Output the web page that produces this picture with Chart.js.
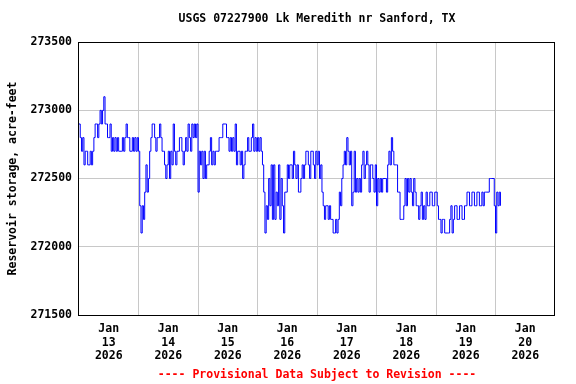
<!DOCTYPE html>
<html><head><meta charset="utf-8">
<script src="https://cdn.jsdelivr.net/npm/chart.js@4"></script>
<style>html,body{margin:0;padding:0;background:#fff}#wrap{width:576px;height:384px}</style>
</head><body><div id="wrap"><canvas id="c" width="576" height="384"></canvas></div>
<script>
// ---- data ----
const chartTitle = 'USGS 07227900 Lk Meredith nr Sanford, TX';
const yAxisTitle = 'Reservoir storage, acre-feet';
const footerText = '---- Provisional Data Subject to Revision ----';
const monthLabel = 'Jan';
const yearLabel = '2026';
const dayLabels = ['13', '14', '15', '16', '17', '18', '19', '20'];
const yTickValues = [271500, 272000, 272500, 273000, 273500];
// half-hourly reservoir storage (acre-feet), starting Jan 13 2026 00:00
const storage = [
  // Jan 13
  272900,272800, 272700,272800, 272600,272700, 272700,272600, 272600,272700, 272600,272700,
  272800,272900, 272900,272800, 272900,273000, 272900,273000, 273100,272900, 272900,272800,
  272800,272900, 272700,272800, 272700,272800, 272700,272800, 272700,272700, 272700,272800,
  272700,272800, 272900,272800, 272800,272700, 272700,272800, 272700,272800, 272700,272800,
  // Jan 14
  272700,272300, 272100,272300, 272200,272400, 272600,272400, 272500,272700, 272800,272900,
  272900,272800, 272700,272800, 272800,272900, 272800,272700, 272700,272600, 272500,272600,
  272700,272500, 272700,272600, 272900,272700, 272600,272700, 272700,272800, 272800,272700,
  272600,272700, 272800,272700, 272900,272800, 272700,272900, 272800,272900, 272800,272900,
  // Jan 15
  272400,272700, 272600,272700, 272500,272700, 272500,272600, 272600,272700, 272800,272600,
  272700,272600, 272700,272700, 272700,272800, 272800,272800, 272900,272900, 272900,272800,
  272800,272700, 272800,272700, 272800,272700, 272900,272600, 272700,272700, 272600,272700,
  272500,272600, 272700,272700, 272800,272700, 272700,272800, 272900,272700, 272800,272700,
  // Jan 16
  272800,272700, 272800,272700, 272600,272400, 272100,272300, 272200,272500, 272300,272600,
  272200,272600, 272200,272400, 272300,272600, 272200,272500, 272300,272100, 272400,272400,
  272600,272500, 272600,272600, 272500,272700, 272600,272500, 272600,272400, 272400,272500,
  272600,272500, 272600,272700, 272700,272600, 272500,272700, 272700,272600, 272500,272700,
  // Jan 17
  272600,272700, 272500,272600, 272400,272300, 272200,272300, 272300,272200, 272300,272200,
  272200,272100, 272100,272200, 272100,272200, 272400,272300, 272500,272600, 272700,272600,
  272800,272700, 272600,272700, 272300,272400, 272700,272400, 272500,272400, 272500,272400,
  272600,272700, 272500,272600, 272700,272600, 272400,272600, 272600,272500, 272400,272600,
  // Jan 18
  272300,272500, 272400,272500, 272400,272500, 272500,272500, 272400,272600, 272700,272600,
  272800,272700, 272600,272600, 272600,272400, 272400,272200, 272200,272200, 272300,272500,
  272300,272500, 272400,272500, 272400,272300, 272500,272400, 272300,272300, 272200,272300,
  272400,272200, 272300,272200, 272400,272300, 272300,272400, 272400,272300, 272300,272400,
  // Jan 19
  272400,272300, 272200,272200, 272100,272200, 272200,272100, 272100,272100, 272100,272200,
  272300,272100, 272200,272300, 272300,272200, 272200,272300, 272300,272200, 272200,272300,
  272300,272400, 272400,272300, 272300,272400, 272400,272300, 272300,272400, 272400,272300,
  272300,272400, 272300,272400, 272400,272400, 272400,272500, 272500,272500, 272500,272300,
  // Jan 20
  272100,272400, 272300,272400, 272300
];
const stepHours = 0.5;
const hoursPerDay = 24;
const numDays = 8;

// ---- chart ----
const FONT = {family: "'DejaVu Sans Mono', monospace", size: 11.5, weight: 'bold', lineHeight: 1.15};
const points = storage.map((v, i) => ({x: i * stepHours, y: v}));
const xTickVals = [];
for (let h = 0; h <= hoursPerDay * numDays; h += hoursPerDay / 2) xTickVals.push(h);

const framePlugin = {
  id: 'frame',
  afterDraw(chart) {
    const a = chart.chartArea, ctx = chart.ctx;
    ctx.save();
    ctx.strokeStyle = '#000';
    ctx.lineWidth = 1;
    ctx.strokeRect(Math.round(a.left) - 0.5, Math.round(a.top) + 0.5, Math.round(a.right - a.left), Math.round(a.bottom - a.top));
    ctx.restore();
  }
};

new Chart(document.getElementById('c'), {
  type: 'line',
  data: {
    datasets: [{
      data: points,
      borderColor: '#0000ff',
      borderWidth: 1,
      pointRadius: 0,
      stepped: true,
      fill: false
    }]
  },
  options: {
    responsive: false,
    animation: false,
    devicePixelRatio: 1,
    layout: {padding: {left: 0, right: 21, top: 0, bottom: 0}},
    plugins: {
      legend: {display: false},
      tooltip: {enabled: false},
      title: {display: true, fullSize: false, text: chartTitle, color: '#000', font: FONT, padding: {top: 12, bottom: 17}},
      subtitle: {display: true, fullSize: false, position: 'bottom', text: footerText, color: '#ff0000', font: FONT, padding: {top: 4, bottom: 2}}
    },
    scales: {
      x: {
        type: 'linear',
        min: 0,
        max: hoursPerDay * numDays,
        afterBuildTicks: s => { s.ticks = xTickVals.map(v => ({value: v})); },
        afterFit: s => { s.height = 50; },
        border: {display: false},
        grid: {
          drawTicks: false,
          color: ctx => (ctx.tick && ctx.tick.value % 24 === 0 && ctx.tick.value > 0 && ctx.tick.value < 192) ? '#c8c8c8' : 'rgba(0,0,0,0)',
          lineWidth: 1
        },
        ticks: {
          autoSkip: false, maxRotation: 0, minRotation: 0, padding: 8, color: '#000', font: FONT,
          callback: v => (v % 24 === 12) ? [monthLabel, dayLabels[(v - 12) / 24], yearLabel] : ''
        }
      },
      y: {
        min: yTickValues[0],
        max: yTickValues[yTickValues.length - 1],
        afterBuildTicks: s => { s.ticks = yTickValues.map(v => ({value: v})); },
        afterFit: s => { s.width = 79; },
        border: {display: false},
        grid: {
          drawTicks: false,
          color: ctx => (ctx.tick && ctx.tick.value > yTickValues[0] && ctx.tick.value < yTickValues[yTickValues.length - 1]) ? '#c8c8c8' : 'rgba(0,0,0,0)',
          lineWidth: 1
        },
        ticks: {padding: 7, color: '#000', font: FONT, callback: v => String(v)},
        title: {display: true, text: yAxisTitle, color: '#000', font: FONT, padding: {top: 6, bottom: 0}}
      }
    }
  },
  plugins: [framePlugin]
});
</script>
</body></html>
